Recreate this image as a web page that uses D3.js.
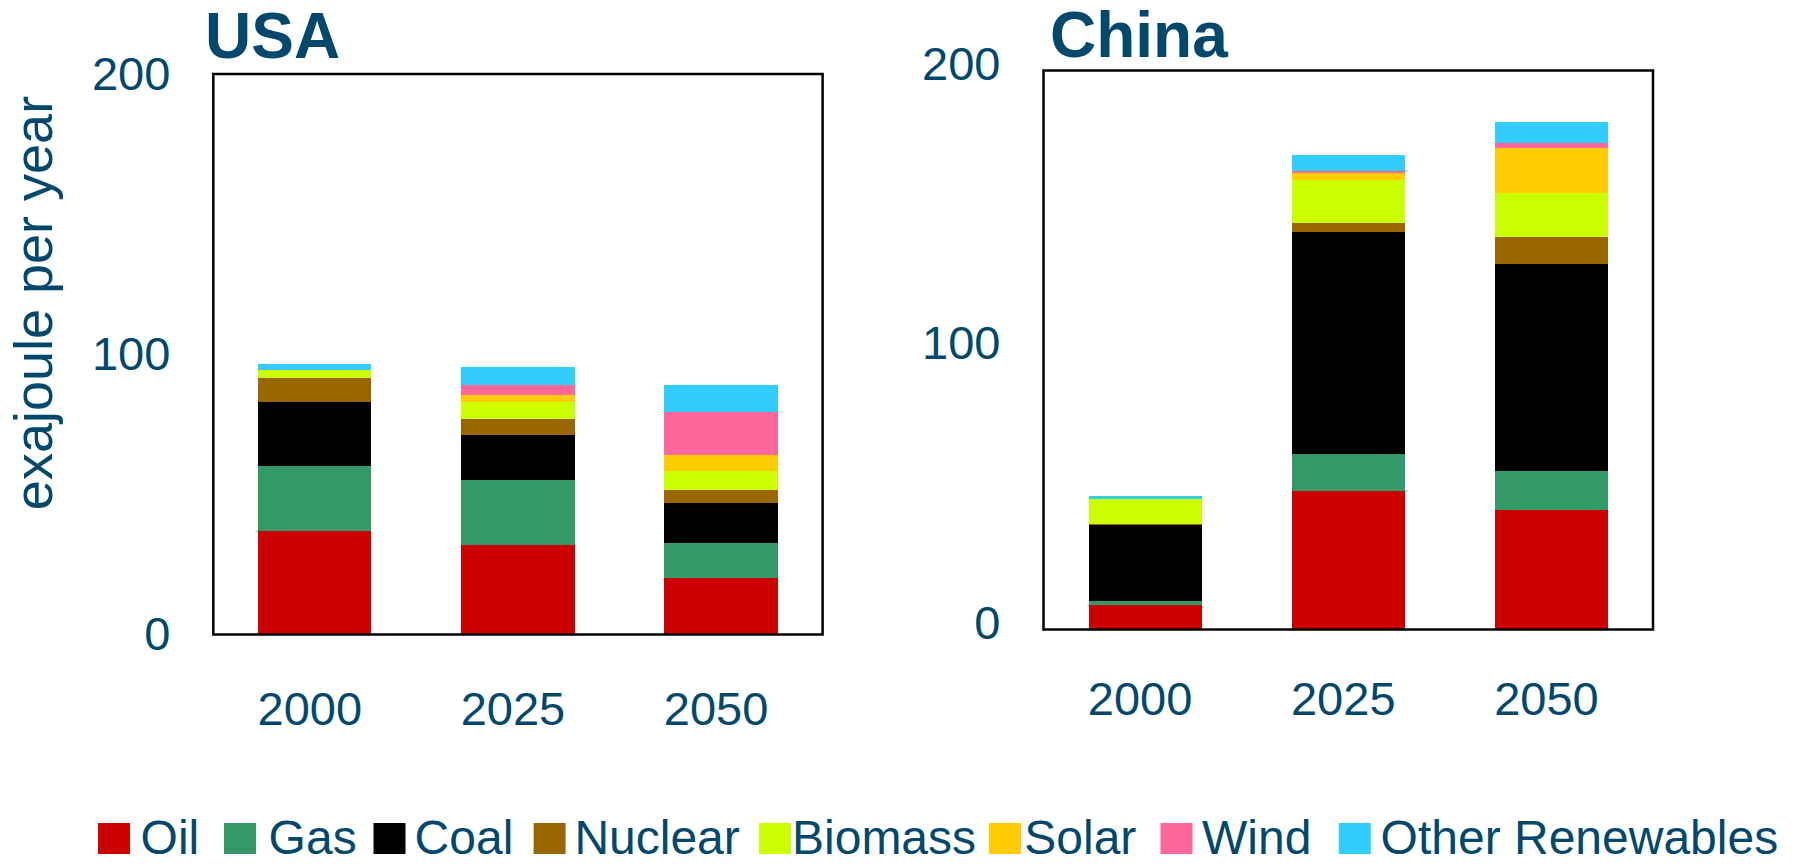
<!DOCTYPE html>
<html>
<head>
<meta charset="utf-8">
<script src="https://cdn.jsdelivr.net/npm/d3@7"></script>
<style>
  html, body { margin: 0; padding: 0; background: #fff; }
  svg { display: block; font-family: 'Liberation Sans', Arial, sans-serif; }
</style>
</head>
<body>
<div id="chart"></div>
<script>
// data (exajoule per year)
const years = ['2000', '2025', '2050'];
const sources = ['Oil', 'Gas', 'Coal', 'Nuclear', 'Biomass', 'Solar', 'Wind', 'Other Renewables'];
const sourceColors = ['#cc0000', '#339966', '#000000', '#996600', '#ccff00', '#ffcc00', '#ff6699', '#33ccff'];
const yTicks = [0, 100, 200];

const usaOil = [36.9, 31.9, 20.3];
const usaGas = [23.2, 23.2, 12.3];
const usaCoal = [22.9, 16.1, 14.3];
const usaNuclear = [8.5, 5.7, 4.7];
const usaBiomass = [2.8, 6.1, 6.7];
const usaSolar = [0.2, 2.5, 5.7];
const usaWind = [0, 3.5, 15.5];
const usaOther = [2.0, 6.5, 9.5];

const chinaOil = [8.8, 49.6, 42.8];
const chinaGas = [1.4, 13.2, 14.0];
const chinaCoal = [27.2, 79.5, 74.1];
const chinaNuclear = [0.5, 3.3, 9.7];
const chinaBiomass = [8.8, 15.4, 15.4];
const chinaSolar = [0, 2.5, 16.4];
const chinaWind = [0, 0.7, 1.6];
const chinaOther = [1.1, 5.4, 7.4];

const textColor = '#02486c';
const W = 1798, H = 865;

// build rows for d3.stack
const toRows = (series) =>
  years.map((yr, i) => {
    const row = { year: yr };
    sources.forEach((s, j) => (row[s] = series[j][i]));
    return row;
  });

const panels = [
  {
    title: 'USA',
    rows: toRows([usaOil, usaGas, usaCoal, usaNuclear, usaBiomass, usaSolar, usaWind, usaOther]),
    left: 213.3, right: 822.6, top: 74, bottom: 634.5,
    titleX: 205, titleY: 58.3, tickShift: 0, labelY: 725
  },
  {
    title: 'China',
    rows: toRows([chinaOil, chinaGas, chinaCoal, chinaNuclear, chinaBiomass, chinaSolar, chinaWind, chinaOther]),
    left: 1043.5, right: 1653, top: 70.5, bottom: 629.5,
    titleX: 1050, titleY: 57.3, tickShift: -6.5, labelY: 714.5
  }
];

const svg = d3.select('#chart').append('svg').attr('width', W).attr('height', H);

const stack = d3.stack().keys(sources);
const color = d3.scaleOrdinal().domain(sources).range(sourceColors);

panels.forEach((p) => {
  const y = d3.scaleLinear().domain([0, 200]).range([p.bottom, p.top]);
  const x = d3.scaleBand().domain(years).range([p.left, p.right]).paddingInner(0.443).paddingOuter(0.2215);

  const g = svg.append('g').attr('class', 'panel');

  // stacked bars
  g.append('g')
    .selectAll('g')
    .data(stack(p.rows))
    .join('g')
    .attr('fill', (d) => color(d.key))
    .selectAll('rect')
    .data((d) => d)
    .join('rect')
    .attr('x', (d) => x(d.data.year))
    .attr('y', (d) => y(d[1]))
    .attr('height', (d) => y(d[0]) - y(d[1]))
    .attr('width', x.bandwidth())
    .attr('shape-rendering', 'crispEdges');

  // frame
  g.append('rect')
    .attr('x', p.left)
    .attr('y', p.top)
    .attr('width', p.right - p.left)
    .attr('height', p.bottom - p.top)
    .attr('fill', 'none')
    .attr('stroke', '#000')
    .attr('stroke-width', 2.5);

  // y axis
  const yAxis = g.append('g')
    .attr('transform', `translate(${p.left},0)`)
    .call(d3.axisLeft(y).tickValues(yTicks).tickSize(0).tickPadding(43));
  yAxis.select('.domain').remove();
  yAxis.selectAll('text')
    .attr('y', p.tickShift)
    .attr('fill', textColor)
    .attr('font-family', "'Liberation Sans', Arial, sans-serif")
    .attr('font-size', 47);

  // x axis
  const xAxis = g.append('g')
    .attr('transform', `translate(0,${p.bottom})`)
    .call(d3.axisBottom(x).tickSize(0));
  xAxis.select('.domain').remove();
  xAxis.selectAll('text')
    .attr('y', p.labelY - p.bottom)
    .attr('dy', null)
    .attr('x', -5)
    .attr('fill', textColor)
    .attr('font-family', "'Liberation Sans', Arial, sans-serif")
    .attr('font-size', 47);

  // title
  svg.append('text')
    .attr('x', p.titleX)
    .attr('y', p.titleY)
    .attr('fill', textColor)
    .attr('font-size', 64)
    .attr('font-weight', 'bold')
    .text(p.title);
});

// y axis title
svg.append('text')
  .attr('transform', 'translate(51.7,303) rotate(-90)')
  .attr('text-anchor', 'middle')
  .attr('fill', textColor)
  .attr('font-size', 54)
  .text('exajoule per year');

// legend, laid out as in the original slide
const legendSquareX = [98, 224, 373.5, 533.6, 759, 989, 1160.5, 1338.8];
const legendTextX = [140.6, 268.6, 414.6, 574.4, 792, 1024.3, 1202, 1380.6];
const legendBase = 854;

const legend = svg.append('g')
  .selectAll('g')
  .data(sources)
  .join('g');

legend.append('rect')
  .attr('x', (d, i) => legendSquareX[i])
  .attr('y', legendBase - 31)
  .attr('width', 32)
  .attr('height', 31)
  .attr('fill', (d) => color(d));

legend.append('text')
  .attr('x', (d, i) => legendTextX[i])
  .attr('y', legendBase)
  .attr('fill', textColor)
  .attr('font-size', 48)
  .text((d) => d);
</script>
</body>
</html>
